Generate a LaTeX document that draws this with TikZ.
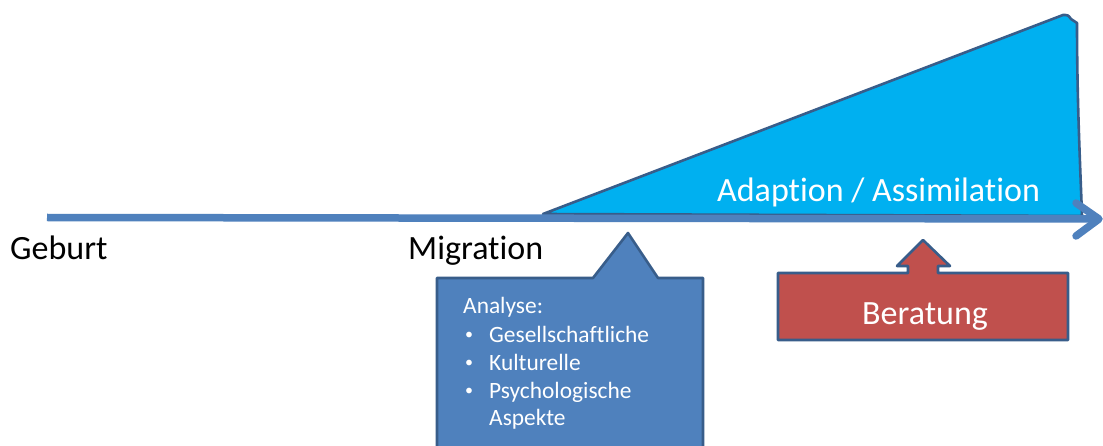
\documentclass[tikz,border=0pt]{standalone}
\usepackage{fontspec}
\setmainfont{Carlito}[Ligatures={NoCommon}]
\definecolor{lineblue}{HTML}{4F81BD}
\definecolor{wedgecyan}{HTML}{00B0F0}
\definecolor{darkedge}{HTML}{385D8A}
\definecolor{beratred}{HTML}{C0504D}
\tikzset{
  bigtext/.style={font=\fontsize{34}{40}\selectfont, inner sep=0pt, anchor=base west},
  smalltext/.style={font=\fontsize{23.4}{28}\selectfont, text=white, inner sep=0pt, anchor=base west},
  bullettext/.style={font=\fontsize{16}{20}\selectfont, text=white, inner sep=0pt, anchor=base west},
  shapeedge/.style={draw=darkedge, line width=2.6pt, line join=round}
}
\begin{document}
\begin{tikzpicture}[x=1pt,y=-1pt]
\useasboundingbox (0,0) rectangle (1103,446);
\clip (0,0) rectangle (1103,446);
\fill[white] (0,0) rectangle (1103,446);
% wedge
\path[shapeedge, fill=wedgecyan] (543,214) -- (1063,15) .. controls (1068,15) .. (1071,19) -- (1077,23)
   .. controls (1077,100) and (1080,160) .. (1082,216) -- cycle;
% timeline
\coordinate (tstart) at (47,217.5);
\coordinate (ttip) at (1099,219);
\draw[lineblue, line width=7.5pt] (tstart) -- (ttip);
\draw[lineblue, line width=7.5pt, line cap=round, line join=round] (1076,203) -- (ttip) -- (1076,236);
\node[bigtext, text=white] (adapt) at (717,202) {Adaption / Assimilation};
\node[bigtext] (geburt) at (10,260) {Geburt};
\node[bigtext] (migr) at (408,260) {Migration};
% callout
\path[shapeedge, fill=lineblue] (437,278) -- (593,278) -- (628,233) -- (658,278) -- (703,278) -- (703,470) -- (437,470) -- cycle;
\node[smalltext] (ana) at (463,313) {Analyse:};
\node[bullettext] (b1) at (465,339) {•};
\node[smalltext] (t1) at (489,342) {Gesellschaftliche};
\node[bullettext] (b2) at (465,367) {•};
\node[smalltext] (t2) at (489,370) {Kulturelle};
\node[bullettext] (b3) at (465,395) {•};
\node[smalltext] (t3) at (489,398) {Psychologische};
\node[smalltext] (t4) at (489,425) {Aspekte};
% Beratung
\path[shapeedge, fill=beratred] (778,273) -- (908,273) -- (908,266) -- (897,266) -- (923,240) -- (950,266) -- (938,266) -- (938,273) -- (1068,273) -- (1068,340) -- (778,340) -- cycle;
\node[bigtext, text=white, anchor=base] (berat) at (925,325) {Beratung};
\end{tikzpicture}
\end{document}
